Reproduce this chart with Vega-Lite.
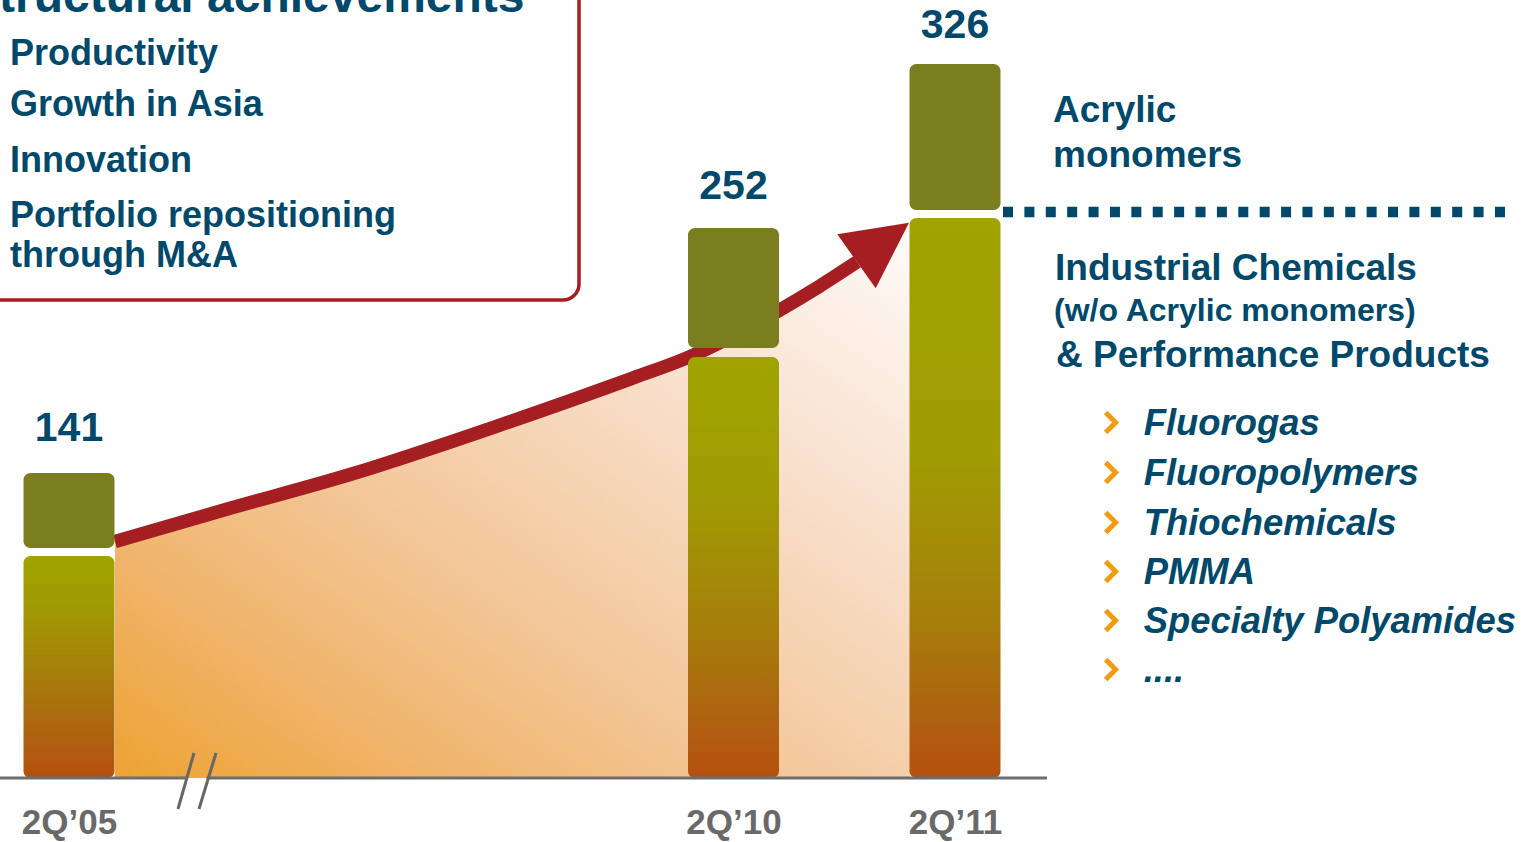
{
  "$schema": "https://vega.github.io/schema/vega-lite/v6.json",
  "width": 1524,
  "height": 842,
  "padding": 0,
  "autosize": {"type": "none"},
  "background": "#ffffff",
  "config": {"view": {"stroke": null}, "text": {"font": "Liberation Sans"}},
  "datasets": {
    "frame": [{"slot": -0.5, "slot2": 2.3025, "value": 219.27, "value2": 400}],
    "title": [{"text": "Structural achievements", "slot": -0.4605, "value": 351.5}],
    "achievements": [
      {"text": "Productivity", "slot": -0.2664, "value": 327.06},
      {"text": "Growth in Asia", "slot": -0.2664, "value": 303.53},
      {"text": "Innovation", "slot": -0.2664, "value": 278.12},
      {"text": "Portfolio repositioning", "slot": -0.2664, "value": 252.89},
      {"text": "through M&A", "slot": -0.2664, "value": 234.54}
    ],
    "trend": [
      {"slot": 0.2077, "value": 108.5},
      {"slot": 0.7269, "value": 123.7},
      {"slot": 1.2686, "value": 139.2},
      {"slot": 1.9458, "value": 161.9},
      {"slot": 2.5327, "value": 183.0},
      {"slot": 2.7901, "value": 192.7},
      {"slot": 3.2009, "value": 214.2},
      {"slot": 3.3905, "value": 225.7},
      {"slot": 3.5576, "value": 236.7},
      {"slot": 3.7968, "value": 255.0, "areaOnly": true}
    ],
    "arrowhead": [{"slot": 3.6343, "value": 242.98}],
    "bars": [
      {"period": "2Q’05", "segment": "IC&PP", "slot": 0, "value": 101.8, "value2": 0},
      {"period": "2Q’05", "segment": "Acrylic monomers", "slot": 0, "value": 139.9, "value2": 105.5},
      {"period": "2Q’10", "segment": "IC&PP", "slot": 3, "value": 193.1, "value2": 0},
      {"period": "2Q’10", "segment": "Acrylic monomers", "slot": 3, "value": 252.3, "value2": 197.2},
      {"period": "2Q’11", "segment": "IC&PP", "slot": 4, "value": 256.9, "value2": 0},
      {"period": "2Q’11", "segment": "Acrylic monomers", "slot": 4, "value": 327.5, "value2": 260.6}
    ],
    "totals": [
      {"period": "2Q’05", "slot": 0, "value": 141, "label": "141"},
      {"period": "2Q’10", "slot": 3, "value": 252, "label": "252"},
      {"period": "2Q’11", "slot": 4, "value": 326, "label": "326"}
    ],
    "baseline": [
      {"slot": -0.3115, "slot2": 0.5372, "value": 0},
      {"slot": 0.6208, "slot2": 4.4153, "value": 0}
    ],
    "breaks": [
      {"slot": 0.5643, "value": 11.47, "slot2": 0.4921, "value2": -14.22},
      {"slot": 0.6637, "value": 11.47, "slot2": 0.5869, "value2": -14.22}
    ],
    "divider": [{"slot": 4.2167, "slot2": 6.4831, "value": 259.63}],
    "headings": [
      {"text": "Acrylic", "slot": 4.4424, "value": 301.06},
      {"text": "monomers", "slot": 4.4424, "value": 280.4},
      {"text": "Industrial Chemicals", "slot": 4.4515, "value": 228.44},
      {"text": "& Performance Products", "slot": 4.456, "value": 188.39}
    ],
    "subheading": [{"text": "(w/o Acrylic monomers)", "slot": 4.447, "value": 209.5}],
    "bullets": [
      {"text": "Fluorogas", "slot": 4.852, "value": 157.34},
      {"text": "Fluoropolymers", "slot": 4.852, "value": 134.4},
      {"text": "Thiochemicals", "slot": 4.852, "value": 111.47},
      {"text": "PMMA", "slot": 4.852, "value": 89.0},
      {"text": "Specialty Polyamides", "slot": 4.852, "value": 66.51},
      {"text": "....", "slot": 4.852, "value": 44.04}
    ]
  },
  "encoding": {
    "x": {
      "field": "slot",
      "type": "quantitative",
      "scale": {"domain": [-0.3115, 6.5688], "nice": false, "zero": false, "padding": 0},
      "axis": {
        "values": [0, 3, 4],
        "labelExpr": "datum.value == 0 ? '2Q’05' : datum.value == 3 ? '2Q’10' : '2Q’11'",
        "domain": false,
        "ticks": false,
        "tickSize": 0,
        "grid": false,
        "title": null,
        "offset": -64,
        "labelPadding": 55,
        "labelBaseline": "alphabetic",
        "labelFont": "Liberation Sans",
        "labelFontWeight": "bold",
        "labelFontSize": 35,
        "labelColor": "#696969",
        "labelFlush": false,
        "labelOverlap": false
      }
    },
    "y": {
      "field": "value",
      "type": "quantitative",
      "scale": {"domain": [-29.36, 356.88], "nice": false, "zero": false, "padding": 0},
      "axis": null
    }
  },
  "layer": [
    {
      "data": {"name": "frame"},
      "mark": {"type": "rect", "fill": "#ffffff", "stroke": "#A51E22", "strokeWidth": 3.5, "cornerRadius": 16},
      "encoding": {"x2": {"field": "slot2"}, "y2": {"field": "value2"}}
    },
    {
      "data": {"name": "title"},
      "mark": {"type": "text", "align": "left", "baseline": "alphabetic", "fontSize": 48, "fontWeight": "bold", "color": "#00496B"},
      "encoding": {"text": {"field": "text"}}
    },
    {
      "data": {"name": "achievements"},
      "mark": {"type": "text", "align": "left", "baseline": "alphabetic", "fontSize": 36, "fontWeight": "bold", "color": "#00496B"},
      "encoding": {"text": {"field": "text"}}
    },
    {
      "data": {"name": "trend"},
      "mark": {
        "type": "area",
        "interpolate": "monotone",
        "color": {
          "gradient": "linear",
          "x1": 0, "y1": 1, "x2": 1, "y2": 0,
          "stops": [
            {"offset": 0, "color": "#EDA232"},
            {"offset": 0.2, "color": "#F0B46A"},
            {"offset": 0.4, "color": "#F3C697"},
            {"offset": 0.7, "color": "#F8DFCB"},
            {"offset": 1, "color": "#FFFBF9"}
          ]
        }
      },
      "encoding": {"y2": {"datum": 0}}
    },
    {
      "data": {"name": "trend"},
      "transform": [{"filter": "!datum.areaOnly"}],
      "mark": {"type": "line", "interpolate": "monotone", "color": "#A51E22", "strokeWidth": 13.5, "strokeCap": "butt"},
      "encoding": {}
    },
    {
      "data": {"name": "arrowhead"},
      "mark": {"type": "point", "shape": "M0.875,-0.64L-0.9175,-0.35L0.0425,1Z", "size": 6400, "filled": true, "color": "#A51E22", "opacity": 1, "strokeWidth": 0},
      "encoding": {}
    },
    {
      "data": {"name": "bars"},
      "transform": [{"filter": "datum.segment == 'IC&PP' && datum.slot == 0"}],
      "mark": {
        "type": "bar", "width": 91, "cornerRadius": 7,
        "color": {
          "gradient": "linear", "x1": 0, "y1": 0, "x2": 0, "y2": 1,
          "stops": [
            {"offset": 0, "color": "#A0A300"},
            {"offset": 0.2, "color": "#A09C03"},
            {"offset": 0.5, "color": "#A6810A"},
            {"offset": 0.8, "color": "#AE6310"},
            {"offset": 1, "color": "#B6500F"}
          ]
        }
      },
      "encoding": {"y2": {"field": "value2"}}
    },
    {
      "data": {"name": "bars"},
      "transform": [{"filter": "datum.segment == 'IC&PP' && datum.slot == 3"}],
      "mark": {
        "type": "bar", "width": 91, "cornerRadius": 7,
        "color": {
          "gradient": "linear", "x1": 0, "y1": 0, "x2": 0, "y2": 1,
          "stops": [
            {"offset": 0, "color": "#A0A300"},
            {"offset": 0.32, "color": "#A09C03"},
            {"offset": 0.62, "color": "#A6810A"},
            {"offset": 0.85, "color": "#AE6310"},
            {"offset": 1, "color": "#B6500F"}
          ]
        }
      },
      "encoding": {"y2": {"field": "value2"}}
    },
    {
      "data": {"name": "bars"},
      "transform": [{"filter": "datum.segment == 'IC&PP' && datum.slot == 4"}],
      "mark": {
        "type": "bar", "width": 91, "cornerRadius": 7,
        "color": {
          "gradient": "linear", "x1": 0, "y1": 0, "x2": 0, "y2": 1,
          "stops": [
            {"offset": 0, "color": "#A0A300"},
            {"offset": 0.42, "color": "#A09C03"},
            {"offset": 0.7, "color": "#A6810A"},
            {"offset": 0.88, "color": "#AE6310"},
            {"offset": 1, "color": "#B6500F"}
          ]
        }
      },
      "encoding": {"y2": {"field": "value2"}}
    },
    {
      "data": {"name": "bars"},
      "transform": [{"filter": "datum.segment == 'Acrylic monomers'"}],
      "mark": {"type": "bar", "width": 91, "cornerRadius": 7, "color": "#7A7E1E"},
      "encoding": {"y2": {"field": "value2"}}
    },
    {
      "data": {"name": "baseline"},
      "mark": {"type": "rule", "color": "#6E6E6E", "strokeWidth": 3},
      "encoding": {"x2": {"field": "slot2"}}
    },
    {
      "data": {"name": "breaks"},
      "mark": {"type": "rule", "color": "#666666", "strokeWidth": 3},
      "encoding": {"x2": {"field": "slot2"}, "y2": {"field": "value2"}}
    },
    {
      "data": {"name": "totals"},
      "mark": {"type": "text", "align": "center", "baseline": "alphabetic", "dy": -29.5, "fontSize": 41, "fontWeight": "bold", "color": "#00496B"},
      "encoding": {"text": {"field": "label"}}
    },
    {
      "data": {"name": "divider"},
      "mark": {"type": "rule", "color": "#00496B", "strokeWidth": 10.5, "strokeDash": [10, 11.39], "strokeCap": "butt"},
      "encoding": {"x2": {"field": "slot2"}}
    },
    {
      "data": {"name": "headings"},
      "mark": {"type": "text", "align": "left", "baseline": "alphabetic", "fontSize": 37, "fontWeight": "bold", "color": "#00496B"},
      "encoding": {"text": {"field": "text"}}
    },
    {
      "data": {"name": "subheading"},
      "mark": {"type": "text", "align": "left", "baseline": "alphabetic", "fontSize": 32, "fontWeight": "bold", "color": "#00496B"},
      "encoding": {"text": {"field": "text"}}
    },
    {
      "data": {"name": "bullets"},
      "mark": {"type": "point", "shape": "M-0.35,-0.8L0.45,0L-0.35,0.8", "size": 625, "filled": false, "color": "#F39C12", "strokeWidth": 5, "opacity": 1, "xOffset": -33.7, "yOffset": -12.5},
      "encoding": {}
    },
    {
      "data": {"name": "bullets"},
      "mark": {"type": "text", "align": "left", "baseline": "alphabetic", "fontSize": 36.4, "fontWeight": "bold", "fontStyle": "italic", "color": "#00496B"},
      "encoding": {"text": {"field": "text"}}
    }
  ]
}
